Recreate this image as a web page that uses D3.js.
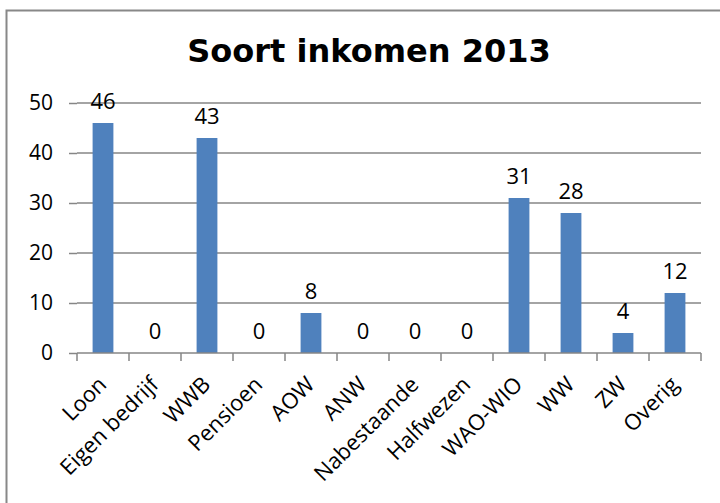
<!DOCTYPE html>
<html lang="nl">
<head>
<meta charset="utf-8">
<script src="https://d3js.org/d3.v7.min.js"></script>
<style>
  body { margin: 0; background: #fff; }
  text { font-family: "Open Sans", "Liberation Sans", sans-serif; fill: #000; }
</style>
</head>
<body>
<script>
// chart data
var categories = ["Loon", "Eigen bedrijf", "WWB", "Pensioen", "AOW", "ANW",
                  "Nabestaande", "Halfwezen", "WAO-WIO", "WW", "ZW", "Overig"];
var values = [46, 0, 43, 0, 8, 0, 0, 0, 31, 28, 4, 12];
var yTicks = [0, 10, 20, 30, 40, 50];
var title = "Soort inkomen 2013";

var width = 720, height = 503;
var margin = {left: 77, right: 19, top: 103, bottom: 150};
var gridColor = "#868686";
var barColor = "#4F81BD";

var svg = d3.select("body").append("svg")
    .attr("width", width)
    .attr("height", height);

// outer chart border
svg.append("rect")
    .attr("x", 6.5).attr("y", 10.5)
    .attr("width", 720).attr("height", 500)
    .attr("fill", "none")
    .attr("stroke", "#888")
    .attr("stroke-width", 2);

svg.append("text")
    .attr("x", 369).attr("y", 62)
    .attr("text-anchor", "middle")
    .style("font-family", "'DejaVu Sans', Verdana, sans-serif")
    .style("font-weight", "bold")
    .style("font-size", "32px")
    .text(title);

var x = d3.scaleBand()
    .domain(categories)
    .range([margin.left, width - margin.right]);

var y = d3.scaleLinear()
    .domain([0, 50])
    .range([height - margin.bottom, margin.top]);

// gridlines + y ticks
var yAxis = svg.append("g")
    .attr("transform", "translate(" + margin.left + ",0)")
    .call(d3.axisLeft(y).tickValues(yTicks).tickSize(8).tickPadding(16));
yAxis.select(".domain").remove();
yAxis.selectAll("line").attr("stroke", gridColor).attr("stroke-width", 1.5);
yAxis.selectAll("text").style("font-size", "21px").attr("fill", "#000");

svg.append("g")
    .selectAll("line")
    .data(yTicks.filter(function(d) { return d > 0; }))
    .join("line")
    .attr("x1", margin.left).attr("x2", width - margin.right)
    .attr("y1", function(d) { return y(d); })
    .attr("y2", function(d) { return y(d); })
    .attr("stroke", gridColor).attr("stroke-width", 1.5);

// bars
var barW = x.bandwidth() * 0.4;
svg.append("g")
    .selectAll("rect")
    .data(values)
    .join("rect")
    .attr("x", function(d, i) { return x(categories[i]) + (x.bandwidth() - barW) / 2; })
    .attr("y", function(d) { return y(d); })
    .attr("width", barW)
    .attr("height", function(d) { return y(0) - y(d); })
    .attr("fill", barColor);

// value labels
svg.append("g")
    .selectAll("text")
    .data(values)
    .join("text")
    .attr("x", function(d, i) { return x(categories[i]) + x.bandwidth() / 2; })
    .attr("y", function(d) { return y(d) - 14; })
    .attr("text-anchor", "middle")
    .style("font-size", "22px")
    .text(function(d) { return d; });

// x axis
var y0 = y(0);
svg.append("line")
    .attr("x1", margin.left).attr("x2", width - margin.right)
    .attr("y1", y0).attr("y2", y0)
    .attr("stroke", gridColor).attr("stroke-width", 1.5);

svg.append("g")
    .selectAll("line")
    .data(categories.concat([null]))
    .join("line")
    .attr("x1", function(d, i) { return margin.left + i * x.bandwidth(); })
    .attr("x2", function(d, i) { return margin.left + i * x.bandwidth(); })
    .attr("y1", y0).attr("y2", y0 + 8)
    .attr("stroke", gridColor).attr("stroke-width", 1.5);

svg.append("g")
    .selectAll("text")
    .data(categories)
    .join("text")
    .attr("transform", function(d) {
      return "translate(" + (x(d) + x.bandwidth() / 2 - 6) + "," + (y0 + 22) + ") rotate(-45)";
    })
    .attr("text-anchor", "end")
    .attr("dy", "0.7em")
    .style("font-size", "22px")
    .text(function(d) { return d; });
</script>
</body>
</html>
